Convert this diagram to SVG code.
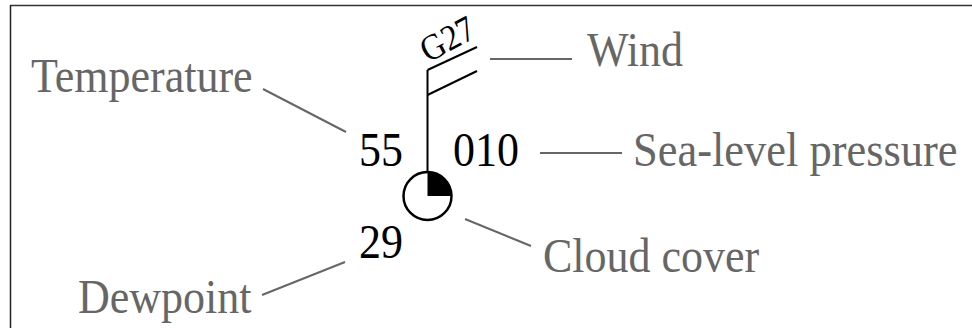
<svg xmlns="http://www.w3.org/2000/svg" width="972" height="328" viewBox="0 0 972 328">
<style>
.lbl{font-family:"Liberation Serif","Times New Roman",serif;font-size:44px;fill:#666}
.num{font-family:"Liberation Serif","Times New Roman",serif;font-size:44px;fill:#000}
.conn{stroke:#666;stroke-width:2;fill:none}
.ink{stroke:#000;stroke-width:2;fill:none}
</style>
<rect width="972" height="328" fill="#fff"/>
<g id="frame">
<line x1="10" y1="5.5" x2="972" y2="5.5" stroke="#333" stroke-width="1.5"/>
<line x1="10.5" y1="5" x2="10.5" y2="328" stroke="#222" stroke-width="1.5"/>
</g>
<g id="station">
<line class="ink" x1="427.5" y1="70" x2="427.5" y2="196"/>
<line class="ink" x1="427.5" y1="70" x2="477" y2="47"/>
<line class="ink" x1="427.5" y1="95" x2="477" y2="71"/>
<text class="num" transform="translate(428,63) rotate(-28) scale(1,1.1)" style="font-size:33px">G27</text>
<circle cx="427.5" cy="196" r="24" fill="#fff" stroke="#000" stroke-width="2.5"/>
<path d="M427.5,196 L427.5,172 A24,24 0 0 1 451.5,196 Z" fill="#000"/>
</g>
<g id="values">
<text class="num" transform="translate(359,166) scale(1,1.08)">55</text>
<text class="num" transform="translate(453,166) scale(1,1.08)">010</text>
<text class="num" transform="translate(359,258) scale(1,1.08)">29</text>
</g>
<g id="temperature"><text class="lbl" transform="translate(31,92) scale(1,1.08)">Temperature</text></g>
<g id="wind"><text class="lbl" transform="translate(587,66) scale(1,1.08)">Wind</text></g>
<g id="pressure"><text class="lbl" transform="translate(633,166) scale(1.01,1.08)">Sea-level pressure</text></g>
<g id="cloud"><text class="lbl" transform="translate(543,272) scale(1,1.08)">Cloud cover</text></g>
<g id="dewpoint"><text class="lbl" transform="translate(78,313) scale(1,1.08)">Dewpoint</text></g>
<g id="connectors">
<line class="conn" x1="263" y1="89" x2="346" y2="132"/>
<line class="conn" x1="490" y1="59" x2="572" y2="59"/>
<line class="conn" x1="540" y1="153" x2="622" y2="153"/>
<line class="conn" x1="465" y1="219" x2="531" y2="246"/>
<line class="conn" x1="262" y1="295" x2="345" y2="262"/>
</g>
</svg>
